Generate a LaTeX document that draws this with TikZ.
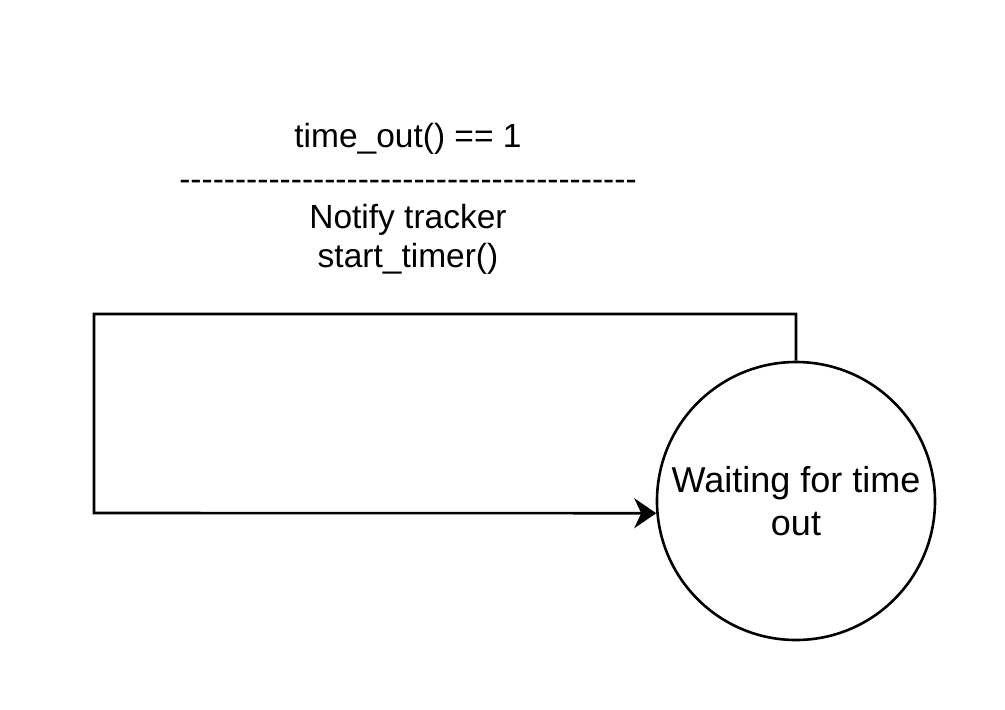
\documentclass[tikz,border=0pt]{standalone}
\usepackage{fontspec}
\setmainfont{Liberation Sans}[Ligatures=TeXOff]
\usetikzlibrary{arrows.meta}
\begin{document}
\begin{tikzpicture}[x=1pt,y=-1pt,
  state/.style={circle,draw,line width=2.6pt,minimum size=278pt,inner sep=0pt,align=center,
    font=\fontsize{36}{43}\selectfont},
  lbltext/.style={anchor=base,inner sep=0pt,font=\fontsize{33.5}{40}\selectfont},
  conn/.style={line width=2.6pt,-{Stealth[length=22pt,width=30pt,inset=7pt]}}]
\useasboundingbox (0,0) rectangle (1005,710);
\node[state] (s) at (796,501) {Waiting for time\\out};
\node[lbltext] (t1) at (408,147) {time\_out() == 1};
\node[lbltext] (t2) at (408,190) {-----------------------------------------};
\node[lbltext] (t3) at (408,228) {Notify tracker};
\node[lbltext] (t4) at (408,267) {start\_timer()};
\coordinate (c1) at (94,314);
\coordinate (c2) at (94,513);
\draw[conn] (s.north) |- (c1) -- (c2) -- (s.185);
\end{tikzpicture}
\end{document}
